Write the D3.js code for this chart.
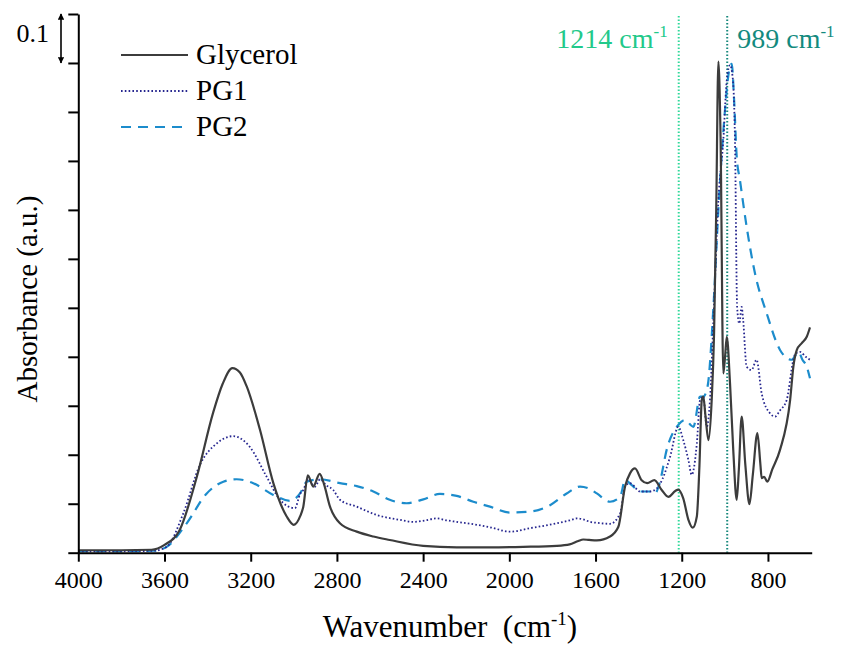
<!DOCTYPE html>
<html>
<head>
<meta charset="UTF-8">
<title>FTIR spectra</title>
<script src="https://d3js.org/d3.v7.min.js"></script>
<style>
body { margin: 0; background: #fff; }
svg text { font-family: "Liberation Serif", "Times New Roman", serif !important; }
</style>
</head>
<body>
<svg width="841" height="648"></svg>
<script>
// spectra: wavenumber (cm-1) and absorbance
var glyWave = [4000, 3800, 3660, 3600, 3530, 3450, 3375, 3330, 3285, 3250, 3219, 3157, 3095, 3033, 3000, 2970, 2956, 2935, 2910, 2880, 2860, 2832, 2786, 2708, 2631, 2555, 2400, 2244, 2090, 1935, 1780, 1720, 1680, 1657, 1630, 1594, 1533, 1494, 1463, 1440, 1417, 1386, 1360, 1327, 1293, 1262, 1230, 1216, 1193, 1169, 1149, 1130, 1118, 1107, 1100, 1090, 1076, 1061, 1050, 1040, 1030, 1020, 1007, 999, 991, 976, 961, 945, 935, 922, 905, 886, 870, 849, 835, 829, 818, 803, 780, 744, 697, 682, 666, 643, 620, 605];
var glyAbs  = [0.005, 0.005, 0.006, 0.016, 0.046, 0.155, 0.285, 0.345, 0.377, 0.368, 0.340, 0.251, 0.142, 0.074, 0.057, 0.075, 0.094, 0.158, 0.135, 0.161, 0.140, 0.094, 0.060, 0.043, 0.033, 0.026, 0.014, 0.011, 0.011, 0.012, 0.014, 0.017, 0.024, 0.027, 0.026, 0.025, 0.033, 0.053, 0.135, 0.162, 0.172, 0.148, 0.142, 0.148, 0.128, 0.114, 0.126, 0.129, 0.111, 0.067, 0.051, 0.074, 0.176, 0.312, 0.319, 0.280, 0.230, 0.312, 0.448, 0.700, 1.003, 0.850, 0.366, 0.400, 0.441, 0.346, 0.210, 0.108, 0.170, 0.278, 0.180, 0.099, 0.160, 0.244, 0.180, 0.152, 0.155, 0.145, 0.170, 0.210, 0.312, 0.380, 0.414, 0.428, 0.441, 0.460];

var pg1Wave = [4000, 3800, 3650, 3590, 3513, 3435, 3358, 3281, 3204, 3126, 3064, 2995, 2970, 2956, 2933, 2902, 2878, 2850, 2817, 2786, 2708, 2615, 2507, 2445, 2390, 2337, 2290, 2244, 2151, 2090, 1997, 1904, 1780, 1720, 1687, 1657, 1626, 1594, 1533, 1486, 1463, 1440, 1393, 1347, 1316, 1290, 1254, 1216, 1193, 1169, 1154, 1130, 1115, 1100, 1084, 1069, 1053, 1030, 1007, 991, 976, 964, 953, 943, 933, 922, 915, 899, 876, 853, 829, 791, 767, 745, 713, 682, 674, 651, 625, 605];
var pg1Abs  = [0.003, 0.003, 0.004, 0.012, 0.080, 0.180, 0.223, 0.238, 0.216, 0.155, 0.108, 0.091, 0.121, 0.128, 0.150, 0.135, 0.150, 0.138, 0.128, 0.108, 0.094, 0.077, 0.067, 0.063, 0.066, 0.070, 0.066, 0.063, 0.057, 0.052, 0.043, 0.050, 0.060, 0.066, 0.070, 0.068, 0.063, 0.061, 0.059, 0.080, 0.135, 0.142, 0.125, 0.125, 0.131, 0.150, 0.196, 0.257, 0.230, 0.189, 0.159, 0.223, 0.312, 0.319, 0.257, 0.312, 0.475, 0.720, 0.843, 0.965, 0.996, 0.972, 0.843, 0.502, 0.468, 0.502, 0.475, 0.380, 0.373, 0.394, 0.325, 0.285, 0.278, 0.290, 0.312, 0.394, 0.405, 0.410, 0.400, 0.394];

var pg2Wave = [4000, 3800, 3650, 3590, 3497, 3404, 3327, 3265, 3188, 3095, 3018, 2971, 2940, 2878, 2786, 2708, 2631, 2555, 2477, 2399, 2322, 2244, 2167, 2090, 1997, 1904, 1811, 1734, 1672, 1626, 1594, 1533, 1486, 1463, 1432, 1393, 1347, 1324, 1301, 1270, 1216, 1185, 1146, 1115, 1100, 1080, 1053, 1030, 1000, 980, 968, 957, 945, 930, 899, 860, 806, 744, 720, 690, 658, 640, 620, 605];
var pg2Abs  = [0.003, 0.003, 0.004, 0.012, 0.060, 0.121, 0.145, 0.150, 0.142, 0.118, 0.106, 0.121, 0.145, 0.150, 0.142, 0.136, 0.125, 0.108, 0.101, 0.109, 0.120, 0.116, 0.104, 0.094, 0.082, 0.084, 0.097, 0.121, 0.135, 0.130, 0.121, 0.104, 0.114, 0.148, 0.138, 0.125, 0.125, 0.121, 0.145, 0.210, 0.261, 0.271, 0.257, 0.319, 0.319, 0.340, 0.502, 0.700, 0.900, 0.985, 0.998, 0.924, 0.809, 0.761, 0.666, 0.570, 0.489, 0.414, 0.400, 0.394, 0.410, 0.394, 0.380, 0.356];

var seriesNames = ["Glycerol", "PG1", "PG2"];
var xMajorTicks = [4000, 3600, 3200, 2800, 2400, 2000, 1600, 1200, 800];
var markers = [1214, 989];
var markerLabels = ["1214 cm", "989 cm"];

var svg = d3.select("svg");

var x = d3.scaleLinear().domain([4000, 597]).range([78.3, 811.7]);
var y = d3.scaleLinear().domain([0, 1.1]).range([552.7, 14]);

var serif = "Liberation Serif, Times New Roman, serif";

// marker lines (drawn under the spectra)
var markerColors = ["#2fd99a", "#17887c"];
var markerText = ["#22c98a", "#138a7e"];
markers.forEach(function(m, i) {
  svg.append("line")
    .attr("x1", x(m)).attr("x2", x(m))
    .attr("y1", 16).attr("y2", y(0))
    .attr("stroke", markerColors[i])
    .attr("stroke-width", 2)
    .attr("stroke-dasharray", "1.5,2");
});

// spectra
var line = d3.line()
  .x(function(d) { return x(d[0]); })
  .y(function(d) { return y(d[1]); })
  .curve(d3.curveMonotoneX);

function pairs(w, a) { return w.map(function(v, i) { return [v, a[i]]; }); }

var styles = [
  { color: "#3c3c3c", width: 2.2, dash: null },
  { color: "#26268f", width: 1.8, dash: "1.6,2.2" },
  { color: "#1c8ccc", width: 2.2, dash: "10,7" }
];
var allData = [pairs(glyWave, glyAbs), pairs(pg1Wave, pg1Abs), pairs(pg2Wave, pg2Abs)];

[2, 1, 0].forEach(function(i) {
  svg.append("path")
    .datum(allData[i])
    .attr("fill", "none")
    .attr("stroke", styles[i].color)
    .attr("stroke-width", styles[i].width)
    .attr("stroke-dasharray", styles[i].dash)
    .attr("d", line);
});

// axes
var xMinor = d3.range(600, 4001, 200).filter(function(v) { return xMajorTicks.indexOf(v) < 0; });
var yMajor = d3.range(0, 12).map(function(i) { return i / 10; });
var yMinor = d3.range(0, 11).map(function(i) { return i / 10 + 0.05; });

var gx = svg.append("g").attr("transform", "translate(0," + y(0) + ")");
gx.call(d3.axisBottom(x).tickValues(xMinor).tickSize(5).tickFormat(""));
gx.call(d3.axisBottom(x).tickValues(xMajorTicks).tickSize(9).tickSizeOuter(0).tickFormat(d3.format("d")).tickPadding(9));
gx.attr("font-family", serif).attr("font-size", 24);
gx.selectAll("path.domain").attr("stroke-width", 2);
gx.selectAll("line").attr("stroke-width", 2);
gx.selectAll("text").attr("fill", "#000");

var gy = svg.append("g").attr("transform", "translate(" + x(4000) + ",0)");
gy.call(d3.axisLeft(y).tickValues(yMinor).tickSize(5).tickFormat(""));
gy.call(d3.axisLeft(y).tickValues(yMajor).tickSize(10).tickSizeOuter(0).tickFormat(""));
gy.selectAll("path.domain").attr("stroke-width", 2);
gy.selectAll("line").attr("stroke-width", 2);

// axis titles
var xt = svg.append("text")
  .attr("x", 450).attr("y", 637)
  .attr("text-anchor", "middle")
  .style("font-size", "31px");
xt.append("tspan").text("Wavenumber\u00a0\u00a0(cm");
xt.append("tspan").attr("dy", -12).style("font-size", "19px").text("-1");
xt.append("tspan").attr("dy", 12).text(")");

svg.append("text")
  .attr("transform", "translate(37,299) rotate(-90)")
  .attr("text-anchor", "middle")
  .style("font-size", "29px")
  .text("Absorbance (a.u.)");

// marker labels
markers.forEach(function(m, i) {
  var t = svg.append("text")
    .attr("x", i == 0 ? x(m) - 11 : x(m) + 10)
    .attr("y", 48)
    .attr("text-anchor", i == 0 ? "end" : "start")
    .style("font-size", "28px")
    .style("fill", markerText[i]);
  t.append("tspan").text(markerLabels[i]);
  t.append("tspan").attr("dy", -11).style("font-size", "17px").text("-1");
});

// scale bar 0.1
svg.append("defs").append("marker")
  .attr("id", "ah").attr("viewBox", "0 0 10 10")
  .attr("refX", 9).attr("refY", 5)
  .attr("markerWidth", 4).attr("markerHeight", 4)
  .attr("orient", "auto-start-reverse")
  .append("path").attr("d", "M0,0L10,5L0,10z").attr("fill", "#000");

svg.append("line")
  .attr("x1", 61).attr("x2", 61)
  .attr("y1", y(1.1)).attr("y2", y(1.0))
  .attr("stroke", "#000").attr("stroke-width", 1.6)
  .attr("marker-start", "url(#ah)").attr("marker-end", "url(#ah)");

svg.append("text")
  .attr("x", 49).attr("y", 42)
  .attr("text-anchor", "end")
  .style("font-size", "26px")
  .text("0.1");

// legend
var leg = svg.append("g");
seriesNames.forEach(function(name, i) {
  var ly = 55 + i * 36;
  leg.append("line")
    .attr("x1", 121).attr("x2", 188)
    .attr("y1", ly).attr("y2", ly)
    .attr("stroke", styles[i].color)
    .attr("stroke-width", styles[i].width)
    .attr("stroke-dasharray", styles[i].dash);
  leg.append("text")
    .attr("x", 196).attr("y", ly + 9)
    .style("font-size", "29px")
    .text(name);
});
</script>
</body>
</html>
